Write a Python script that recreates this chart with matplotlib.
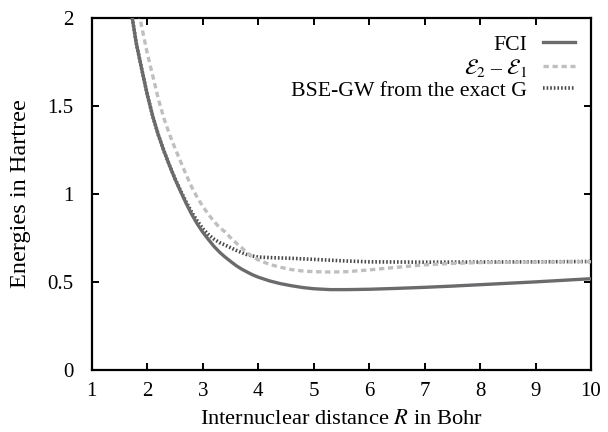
import matplotlib
matplotlib.use("Agg")
from matplotlib import pyplot as plt
from matplotlib.ticker import FormatStrFormatter

plt.rcParams['font.family'] = ['Liberation Serif', 'DejaVu Serif']
plt.rcParams['mathtext.fontset'] = 'stix'

# FCI excitation energy
r_fci = [1.72, 1.80, 1.90, 2.00, 2.10, 2.20, 2.30, 2.40, 2.50, 2.60,
         2.70, 2.80, 2.90, 3.00, 3.10, 3.20, 3.30, 3.40, 3.50, 3.60,
         3.70, 3.80, 3.90, 4.00, 4.20, 4.40, 4.60, 4.80, 5.00, 5.30,
         5.60, 6.00, 6.50, 7.00, 7.50, 8.00, 8.50, 9.00, 9.50, 10.0]
e_fci = [2.02, 1.86, 1.71, 1.565, 1.44, 1.335, 1.245, 1.163, 1.085, 1.015,
         0.947, 0.885, 0.83, 0.783, 0.742, 0.703, 0.67, 0.642, 0.617, 0.593,
         0.573, 0.556, 0.54, 0.527, 0.506, 0.49, 0.478, 0.468, 0.461, 0.456,
         0.456, 0.458, 0.463, 0.469, 0.476, 0.484, 0.492, 0.500, 0.509, 0.518]

# E2 - E1
r_diff = [1.85, 1.90, 2.00, 2.10, 2.20, 2.30, 2.40, 2.50, 2.60, 2.70,
          2.80, 2.90, 3.00, 3.10, 3.20, 3.30, 3.40, 3.50, 3.60, 3.70,
          3.80, 3.90, 4.00, 4.20, 4.40, 4.60, 4.80, 5.00, 5.30, 5.60,
          6.00, 6.50, 7.00, 7.50, 8.00, 9.00, 10.0]
e_diff = [2.03, 1.95, 1.80, 1.67, 1.54, 1.43, 1.34, 1.26, 1.185, 1.11,
          1.04, 0.98, 0.93, 0.885, 0.845, 0.81, 0.785, 0.752, 0.722, 0.695,
          0.665, 0.643, 0.625, 0.60, 0.583, 0.57, 0.562, 0.558, 0.556, 0.558,
          0.568, 0.583, 0.597, 0.605, 0.61, 0.613, 0.615]

# BSE-GW from the exact G (runs under the FCI curve at short distance)
r_bse = [1.72, 1.80, 1.90, 2.00, 2.10, 2.20, 2.30, 2.40, 2.50, 2.60,
         2.70, 2.80, 2.90, 3.00, 3.10, 3.20, 3.30, 3.40, 3.50, 3.60,
         3.70, 3.80, 3.90, 4.00, 4.30, 4.60, 5.00, 5.50, 6.00, 7.00,
         8.00, 9.00, 10.0]
e_bse = [2.02, 1.86, 1.71, 1.565, 1.44, 1.335, 1.245, 1.163, 1.087, 1.019,
         0.955, 0.897, 0.848, 0.803, 0.77, 0.744, 0.724, 0.71, 0.695, 0.68,
         0.667, 0.655, 0.647, 0.641, 0.637, 0.634, 0.628, 0.62, 0.614, 0.612,
         0.613, 0.614, 0.616]

fig = plt.figure(figsize=(6.08, 4.32), dpi=100)
ax = fig.add_axes([0.151, 0.144, 0.821, 0.814])

ax.plot(r_bse, e_bse, color="#4a4a4a", lw=2.6,
        linestyle=(0, (0.45, 0.55)), dash_capstyle="butt",
        label="BSE-GW from the exact G", zorder=2)
ax.plot(r_diff, e_diff, color="#bfbfc2", lw=2.4,
        linestyle=(0, (1.6, 1.1)), dash_capstyle="butt",
        label=r"$\mathcal{E}_2$ – $\mathcal{E}_1$", zorder=3)
ax.plot(r_fci, e_fci, color="#6b6b6e", lw=2.4, label="FCI", zorder=4)

ax.set_xlim(1, 10)
ax.set_ylim(0, 2)
ax.set_xticks(range(1, 11))
ax.set_yticks([0, 0.5, 1, 1.5, 2])
ax.yaxis.set_major_formatter(FormatStrFormatter('%g'))
ax.tick_params(direction="in", top=True, right=True, length=5, width=1.4,
               labelsize=15)
ax.tick_params(axis="y", pad=13)
ax.tick_params(axis="x", pad=9)
for s in ax.spines.values():
    s.set_linewidth(1.6)

ax.set_xlabel("Internuclear distance $R$ in Bohr", fontsize=16.2, labelpad=6)
ax.set_ylabel("Energies in Hartree", fontsize=17.5, labelpad=12)

handles, labels = ax.get_legend_handles_labels()
ax.legend(handles[::-1], labels[::-1], loc="upper right", frameon=False,
          markerfirst=False, fontsize=15.7, handlelength=1.47,
          labelspacing=0.08, borderpad=0.2, borderaxespad=0.55,
          handletextpad=0.7)

fig.savefig("out.png", dpi=100)
